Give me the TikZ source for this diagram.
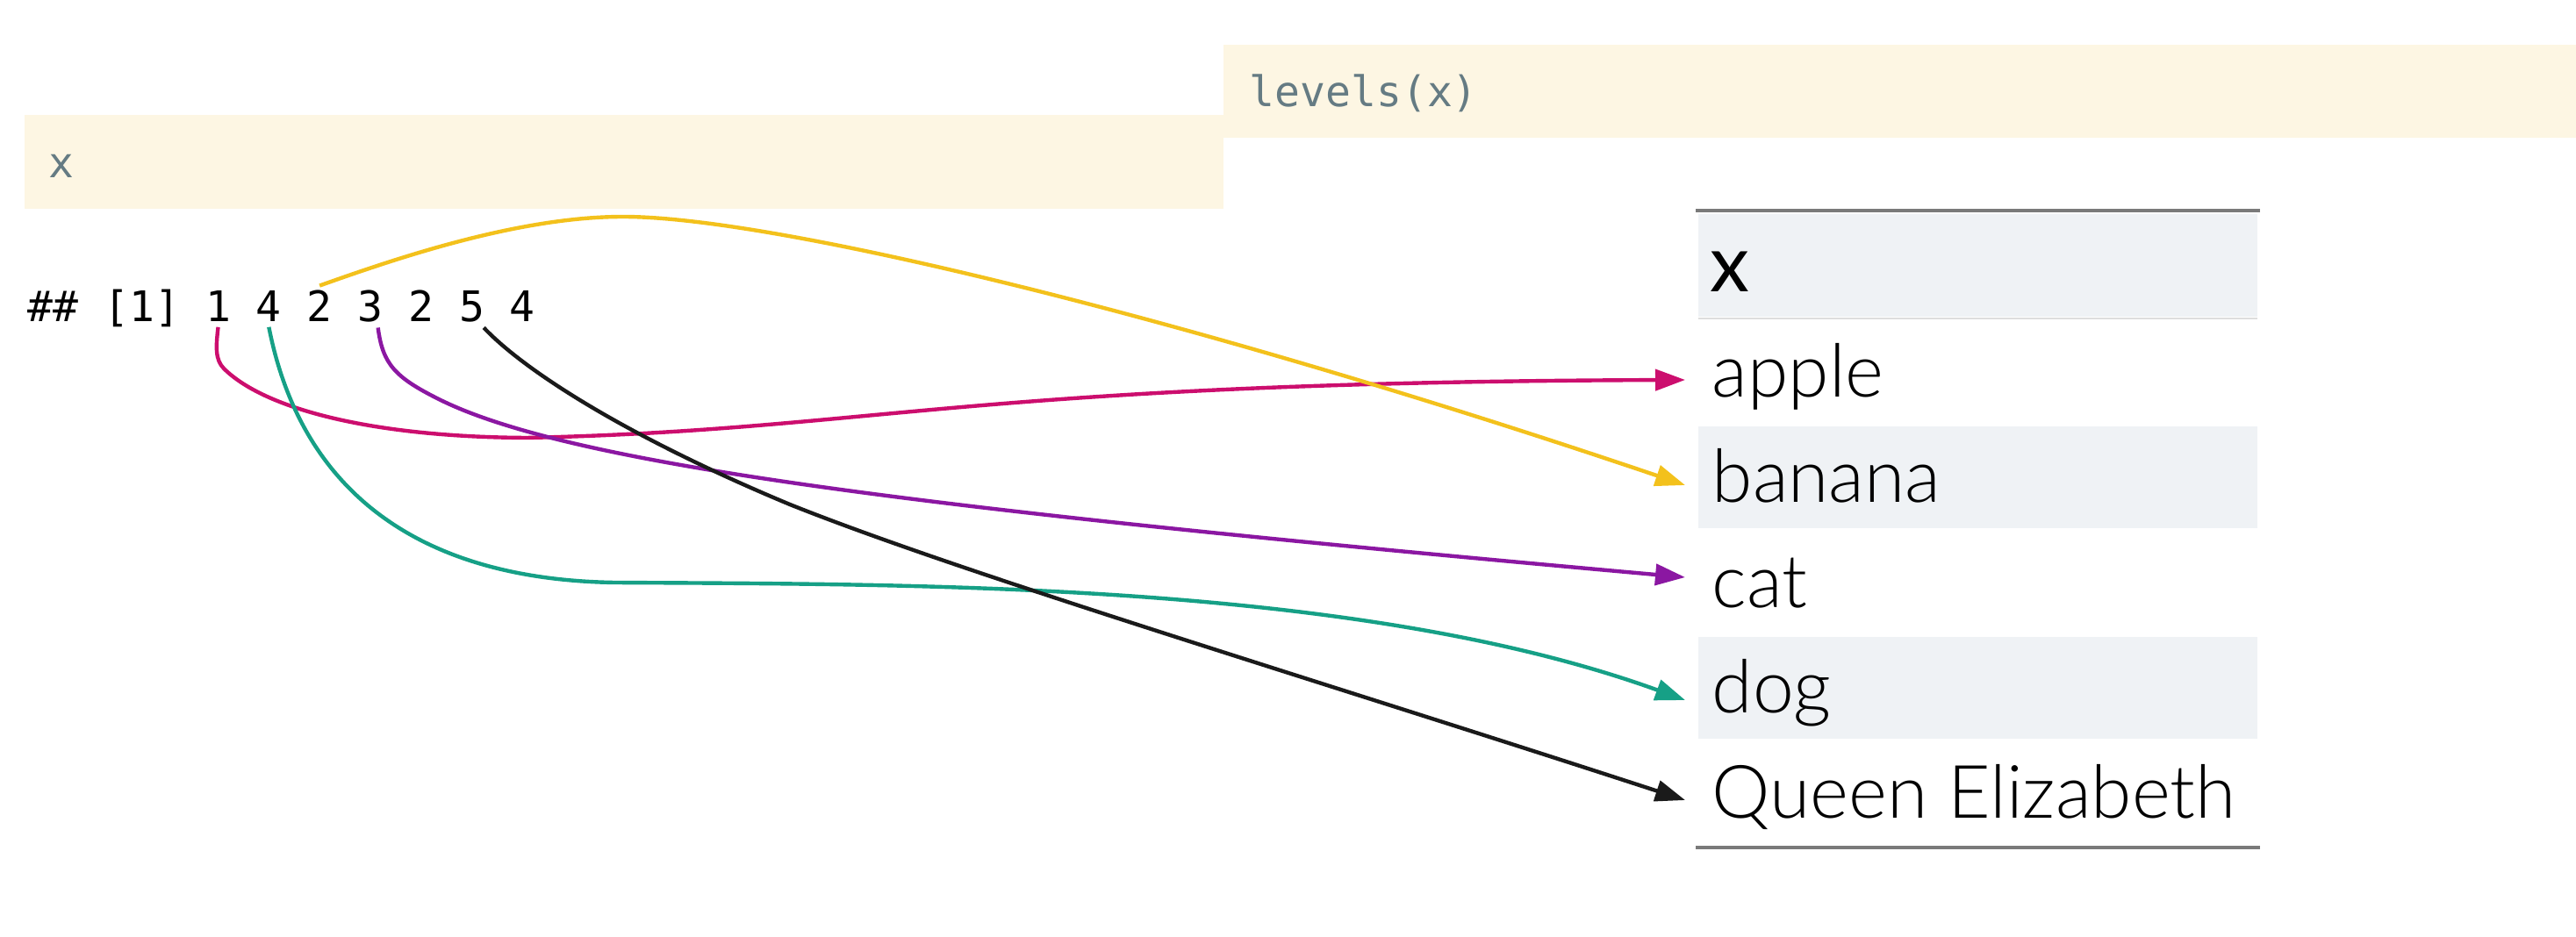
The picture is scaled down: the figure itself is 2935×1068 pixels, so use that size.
\documentclass[tikz,border=0pt]{standalone}
\usepackage{fontspec}
\setmainfont{Lato}
\newfontfamily\cellfont{Lato Light}
\newfontfamily\codefont{DejaVu Sans Mono}
\usetikzlibrary{arrows.meta}
\definecolor{codebg}{HTML}{FDF6E3}
\definecolor{codefg}{HTML}{657B83}
\definecolor{rowbg}{HTML}{EFF2F5}
\definecolor{rulegray}{HTML}{7A7A7A}
\definecolor{linegray}{HTML}{DDDDDD}
\definecolor{cpink}{HTML}{CC0E6E}
\definecolor{cyellow}{HTML}{F3C11C}
\definecolor{cpurple}{HTML}{8B17A2}
\definecolor{cteal}{HTML}{16A086}
\definecolor{cblack}{HTML}{1A1A1A}

\begin{document}
\begin{tikzpicture}[x=0.25pt,y=0.25pt,yscale=-1,xscale=1,
    codetxt/.style={font=\codefont\fontsize{12}{14}\selectfont, text=codefg, inner sep=0pt},
    outtxt/.style={font=\codefont\fontsize{12}{14}\selectfont, inner xsep=0pt, inner ysep=1.25pt},
    celltxt/.style={font=\cellfont\fontsize{21}{24}\selectfont, inner xsep=7.5pt, inner ysep=0pt, text height=10pt, text depth=0pt},
    link/.style={line width=1.1pt, -{Triangle[length=8.5pt,width=6pt]}}]
        \useasboundingbox (0,0) rectangle (2935,1068);

        %Shape: Rectangle (code chunks)
        \fill [codebg] (28,131) rectangle (1394,238);
        \fill [codebg] (1394,51) rectangle (2935,157);

        %Shape: Rectangle (shaded rows)
        \fill [rowbg] (1935,244) rectangle (2572,361);
        \fill [rowbg] (1935,486) rectangle (2572,602);
        \fill [rowbg] (1935,726) rectangle (2572,842);

        %Straight Lines (table rules)
        \draw [rulegray, line width=1pt] (1932,240) -- (2575,240);
        \draw [linegray, line width=0.5pt] (1935,363) -- (2572,363);
        \draw [rulegray, line width=1pt] (1932,966) -- (2575,966);

        % Text Node
        \draw (55,203) node [anchor=base west][codetxt] (xin) {x};
        % Text Node
        \draw (1423,122) node [anchor=base west][codetxt] (lev) {levels(x)};
        % Text Node
        \draw (31,367) node [anchor=base west][outtxt] (idx) {\#\# [1]};
        % Text Node
        \draw (233.3,367) node [anchor=base west][outtxt] (d1) {1};
        % Text Node
        \draw (291.1,367) node [anchor=base west][outtxt] (d2) {4};
        % Text Node
        \draw (348.9,367) node [anchor=base west][outtxt] (d3) {2};
        % Text Node
        \draw (406.7,367) node [anchor=base west][outtxt] (d4) {3};
        % Text Node
        \draw (464.5,367) node [anchor=base west][outtxt] (d5) {2};
        % Text Node
        \draw (522.3,367) node [anchor=base west][outtxt] (d6) {5};
        % Text Node
        \draw (580.1,367) node [anchor=base west][outtxt] (d7) {4};

        % Text Node
        \draw (1918,333) node [anchor=base west][celltxt, font=\rmfamily\fontsize{22.5}{26}\selectfont] (hdr) {x};
        % Text Node
        \draw (1920,453) node [anchor=base west][celltxt] (apple) {apple};
        % Text Node
        \draw (1920,573) node [anchor=base west][celltxt] (banana) {banana};
        % Text Node
        \draw (1920,692) node [anchor=base west][celltxt] (cat) {cat};
        % Text Node
        \draw (1920,812) node [anchor=base west][celltxt] (dog) {dog};
        % Text Node
        \draw (1920,932) node [anchor=base west][celltxt] (queen) {Queen Elizabeth};

        %Curve Lines
        \draw [link, cpink] (d1.south) .. controls (246,395) and (245,410) .. (255,420) .. controls (300,465) and (420,498) .. (600,499) .. controls (1000,490) and (1100,436) .. (apple.west) ;
        %Curve Lines
        \draw [link, cteal] (d2.south) .. controls (340,545) and (460,660) .. (700,664) .. controls (1050,666) and (1550,664) .. ([yshift=1.5pt]dog.west) ;
        %Curve Lines
        \draw [link, cyellow] (d3.north) .. controls (450,295) and (590,247) .. (710,247) .. controls (880,247) and (1350,360) .. (banana.west) ;
        %Curve Lines
        \draw [link, cpurple] (d4.-70) .. controls (436,415) and (450,430) .. (500,455) .. controls (650,530) and (1050,580) .. ([yshift=-3.5pt]cat.west) ;
        %Curve Lines
        \draw [link, cblack] (d6.-60) .. controls (600,425) and (720,500) .. (900,575) .. controls (1100,655) and (1500,775) .. (queen.west) ;

\end{tikzpicture}
\end{document}
